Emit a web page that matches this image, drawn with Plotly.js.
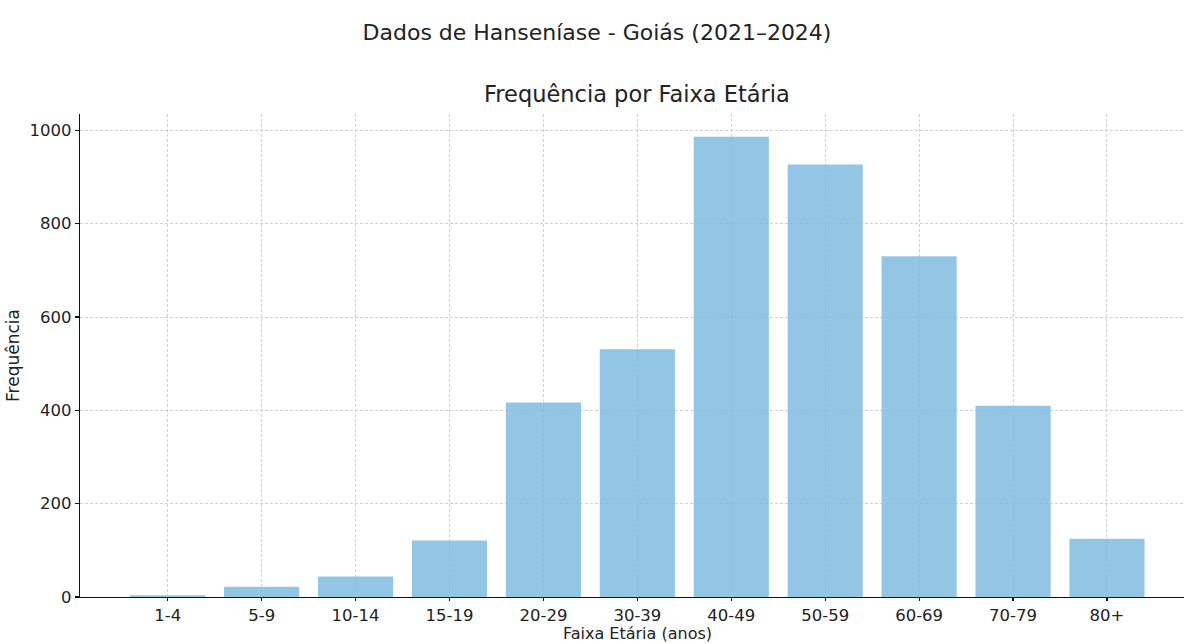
<!DOCTYPE html>
<html>
<head>
<meta charset="utf-8">
<script src="https://cdn.plot.ly/plotly-3.0.1.min.js"></script>
<style>html,body{margin:0;padding:0;background:#fff;}#chart{width:1184px;height:644px;}</style>
</head>
<body>
<div id="chart"></div>
<script>
const faixas = ["1-4","5-9","10-14","15-19","20-29","30-39","40-49","50-59","60-69","70-79","80+"];
const frequencias = [4, 22, 44, 121, 417, 531, 986, 927, 730, 410, 125];
const yTicks = [0, 200, 400, 600, 800, 1000];

const font = "DejaVu Sans, sans-serif";
const trace = {
  type: "bar",
  x: faixas,
  y: frequencias,
  width: 0.8,
  marker: {color: "rgba(127,188,223,0.85)", line: {width: 0}},
  hoverinfo: "x+y"
};

const layout = {
  width: 1184, height: 644,
  margin: {l: 80, r: 0, t: 114, b: 47},
  paper_bgcolor: "#fff", plot_bgcolor: "#fff",
  font: {family: font, color: "#222", size: 17},
  showlegend: false,
  bargap: 0.2,
  title: {
    text: "Dados de Hanseníase - Goiás (2021–2024)",
    font: {family: font, size: 22, color: "#222"},
    xref: "container", x: 597/1184, xanchor: "center",
    yref: "container", y: 1 - 32/644, yanchor: "middle"
  },
  xaxis: {
    type: "category",
    range: [-0.934, 10.82],
    showline: true, linecolor: "#111", linewidth: 1.3,
    ticks: "outside", ticklen: 3, tickcolor: "#111", tickwidth: 1.2,
    showgrid: true, gridcolor: "#d2d2d2", griddash: "3px,2px", gridwidth: 1,
    tickfont: {family: font, size: 16.5, color: "#222"},
    zeroline: false, fixedrange: true
  },
  yaxis: {
    range: [0, 1035],
    tickvals: yTicks,
    ticktext: yTicks.map(String),
    showline: true, linecolor: "#111", linewidth: 1.3,
    ticks: "outside", ticklen: 4, tickcolor: "#111", tickwidth: 1.2,
    showgrid: true, gridcolor: "#d2d2d2", griddash: "3px,2px", gridwidth: 1,
    tickfont: {family: font, size: 16.5, color: "#222"},
    zeroline: false, fixedrange: true,
    title: {text: "Frequência", font: {family: font, size: 17, color: "#222"}, standoff: 5}
  },
  annotations: [{
    text: "Frequência por Faixa Etária",
    xref: "paper", yref: "paper",
    x: (637 - 80)/1104, y: 1, xanchor: "center", yanchor: "bottom", yshift: 5,
    showarrow: false,
    font: {family: font, size: 22.5, color: "#222"}
  }, {
    text: "Faixa Etária (anos)",
    xref: "paper", yref: "paper",
    x: (637 - 80)/1104, y: 0, xanchor: "center", yanchor: "bottom", yshift: -47,
    showarrow: false, borderpad: 0,
    font: {family: font, size: 16, color: "#222"}
  }]
};

Plotly.newPlot("chart", [trace], layout, {displayModeBar: false, staticPlot: true});
</script>
</body>
</html>
